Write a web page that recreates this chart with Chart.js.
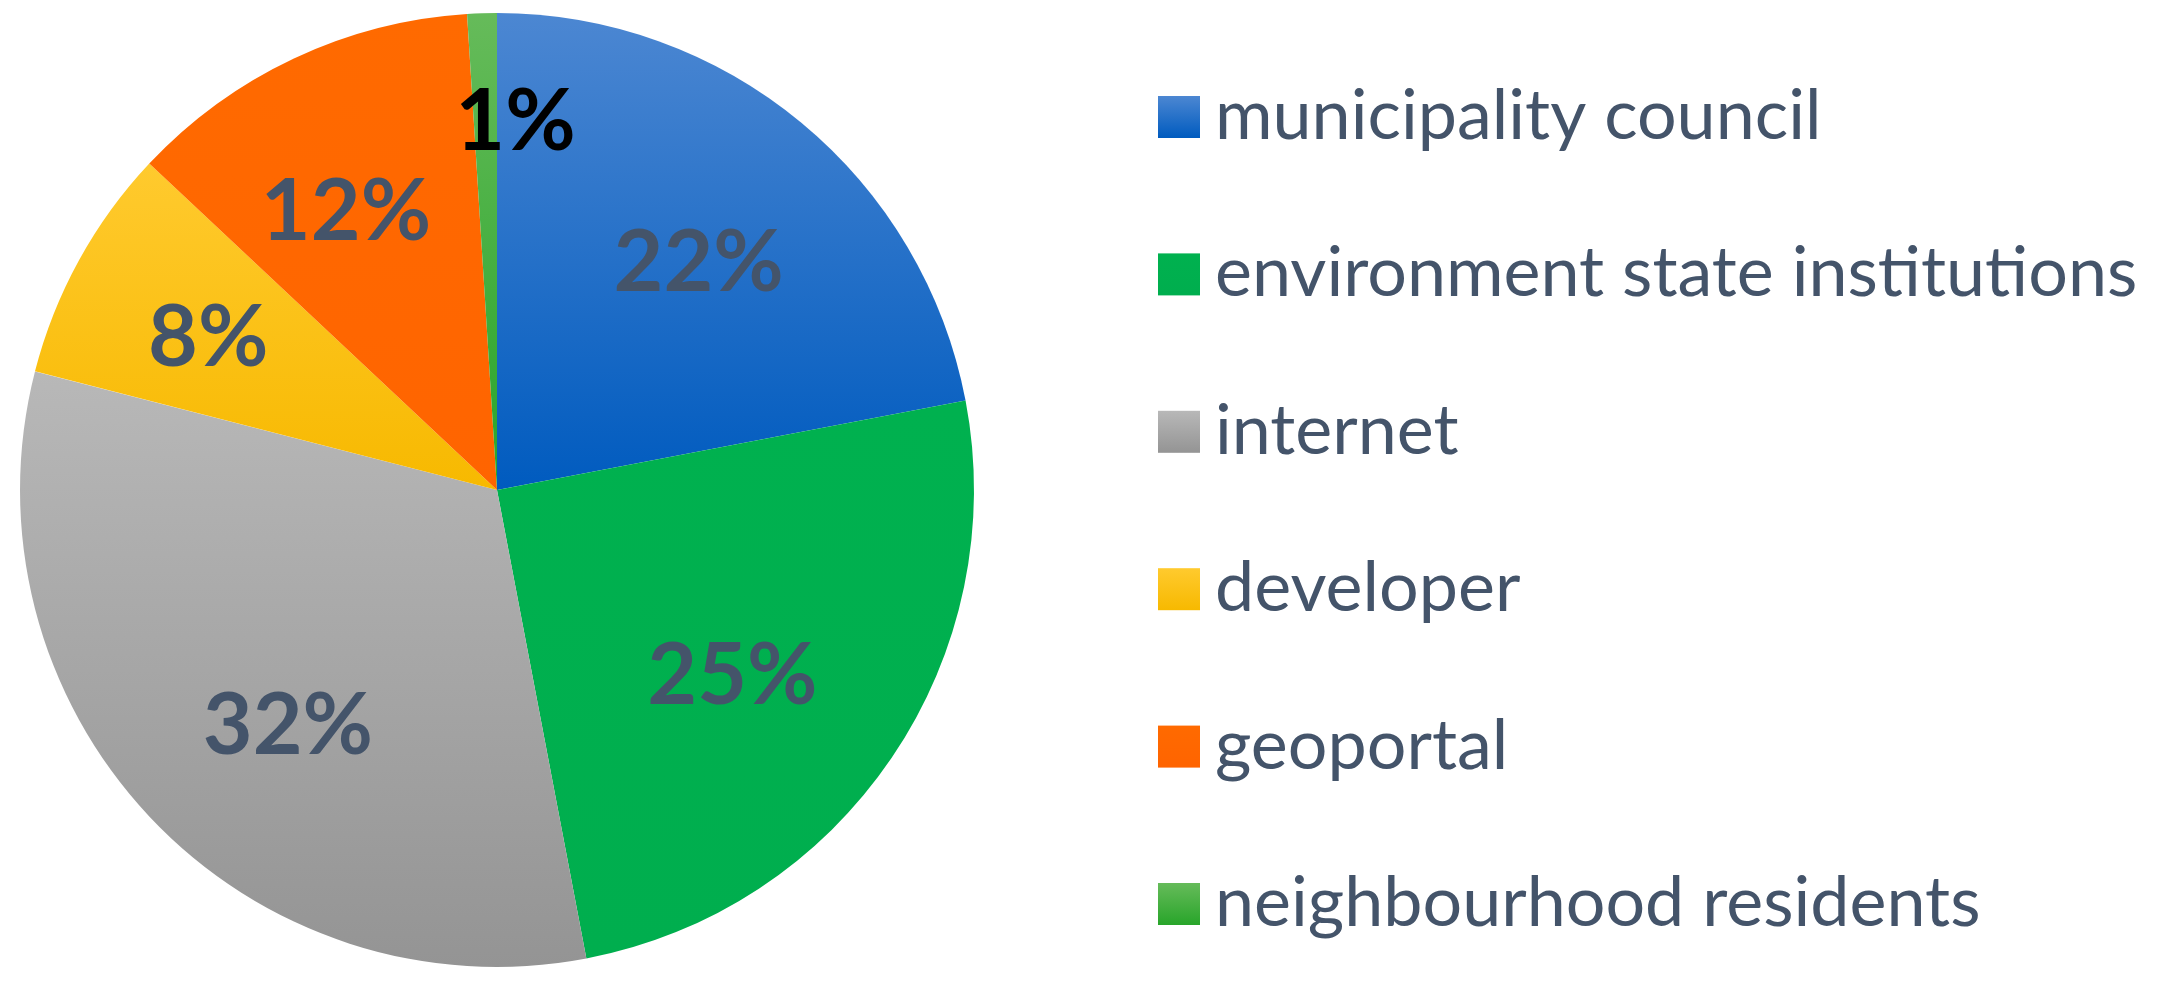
<!DOCTYPE html>
<html>
<head>
<meta charset="utf-8">
<script src="https://cdn.jsdelivr.net/npm/chart.js@4"></script>
<style>
  html, body { margin: 0; padding: 0; background: #fff; }
  #wrap { width: 2157px; height: 984px; }
</style>
</head>
<body>
<div id="wrap"><canvas id="pieChart"></canvas></div>
<script>
const categories = ['municipality council', 'environment state institutions', 'internet', 'developer', 'geoportal', 'neighbourhood residents'];
const shares = [22, 25, 32, 8, 12, 1];

// top / bottom colour of each slice's vertical gradient
const sliceColors = [
  ['#4c87d2', '#005bbf'],
  ['#00b14f', '#00ae4e'],
  ['#b8b8b8', '#949494'],
  ['#ffca2e', '#f7b900'],
  ['#ff6a00', '#ff6400'],
  ['#66bb5a', '#28a52a']
];
const textColor = '#44546a';

function arcYRange(arc) {
  const p = arc.getProps(['x', 'y', 'startAngle', 'endAngle', 'outerRadius'], true);
  const ys = [p.y, p.y + p.outerRadius * Math.sin(p.startAngle), p.y + p.outerRadius * Math.sin(p.endAngle)];
  for (let k = -4; k <= 4; k++) {
    const t = Math.PI / 2 + k * Math.PI;
    if (t > p.startAngle && t < p.endAngle) ys.push(p.y + p.outerRadius * Math.sin(t));
  }
  return [Math.min(...ys), Math.max(...ys)];
}

const gradientFill = {
  id: 'gradientFill',
  beforeDatasetsDraw(chart) {
    const ctx = chart.ctx;
    chart.getDatasetMeta(0).data.forEach((arc, i) => {
      const [y0, y1] = arcYRange(arc);
      const g = ctx.createLinearGradient(0, y0, 0, y1);
      g.addColorStop(0, sliceColors[i][0]);
      g.addColorStop(1, sliceColors[i][1]);
      arc.options.backgroundColor = g;
    });
  }
};

// small hand nudges so labels sit where the original's best-fit put them
const labelNudge = [[4, 9], [-21, 9], [17, 21], [-17, -6], [-19, 0], [30, -4]];

const sliceLabels = {
  id: 'sliceLabels',
  afterDatasetsDraw(chart) {
    const ctx = chart.ctx;
    ctx.save();
    ctx.font = 'bold 86px Lato';
    ctx.textAlign = 'center';
    ctx.textBaseline = 'alphabetic';
    chart.getDatasetMeta(0).data.forEach((arc, i) => {
      const p = arc.getProps(['x', 'y', 'startAngle', 'endAngle', 'outerRadius'], true);
      const mid = (p.startAngle + p.endAngle) / 2;
      const small = shares[i] < 3;
      const r = p.outerRadius * (small ? 0.77 : 0.65);
      const x = p.x + r * Math.cos(mid) + labelNudge[i][0];
      const y = p.y + r * Math.sin(mid) + labelNudge[i][1];
      ctx.fillStyle = small ? '#000000' : textColor;
      ctx.fillText(shares[i] + '%', x, y + 31);
    });
    ctx.restore();
  }
};

const sideLegend = {
  id: 'sideLegend',
  afterDraw(chart) {
    const ctx = chart.ctx;
    const box = 42, left = 1158, top = 96, step = 157.4;
    ctx.save();
    ctx.font = '70px Lato';
    ctx.textBaseline = 'alphabetic';
    categories.forEach((name, i) => {
      const y = top + i * step;
      const g = ctx.createLinearGradient(0, y, 0, y + box);
      g.addColorStop(0, sliceColors[i][0]);
      g.addColorStop(1, sliceColors[i][1]);
      ctx.fillStyle = g;
      ctx.fillRect(left, y, box, box);
      ctx.fillStyle = textColor;
      ctx.fillText(name, left + box + 15, y + box + 1);
    });
    ctx.restore();
  }
};

new Chart(document.getElementById('pieChart').getContext('2d'), {
  type: 'pie',
  data: {
    labels: categories,
    datasets: [{
      data: shares,
      backgroundColor: sliceColors.map(c => c[0]),
      borderWidth: 0
    }]
  },
  options: {
    responsive: true,
    maintainAspectRatio: false,
    animation: false,
    layout: { padding: { left: 20, top: 13, bottom: 17, right: 1183 } },
    plugins: {
      legend: { display: false },
      tooltip: { enabled: false }
    }
  },
  plugins: [gradientFill, sliceLabels, sideLegend]
});
</script>
</body>
</html>
